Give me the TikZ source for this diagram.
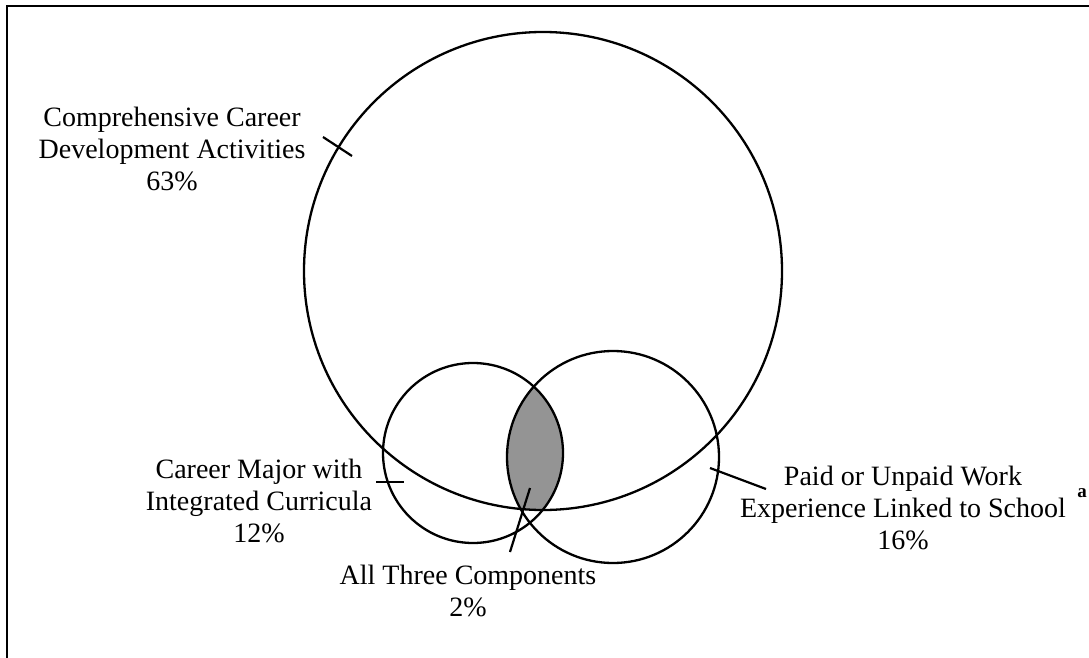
\documentclass[tikz,border=0pt]{standalone}
\usepackage{fontspec}
\setmainfont{Liberation Serif}
\tikzset{
  lbl/.style={align=center, inner sep=0pt, font=\fontsize{28}{32}\selectfont},
  ring/.style={line width=2.3pt},
  tick/.style={line width=2.2pt},
}
\begin{document}
\begin{tikzpicture}[x=1pt,y=-1pt]
  \useasboundingbox (0,0) rectangle (1089,658); %
  \draw[line width=2.6pt] (1100,6) -- (7,6) -- (7,670); %
  \coordinate (cdc) at (543,271); %
  \coordinate (cmj) at (473,453); %
  \coordinate (wrk) at (613,457); %
  % part shared by all three
  \begin{scope}
    \clip (cmj) circle[radius=90]; %
    \clip (wrk) circle[radius=106]; %
    \fill[black!42] (cdc) circle[radius=239]; %
  \end{scope}
  \draw[ring] (cdc) circle[radius=239]; %
  \draw[ring] (cmj) circle[radius=90]; %
  \draw[ring] (wrk) circle[radius=106]; %
  \node[lbl] (cdclbl) at (172,149) {Comprehensive Career\\Development Activities\\63\%}; %
  \node[lbl] (cmjlbl) at (259,501) {Career Major with\\Integrated Curricula\\12\%}; %
  \node[lbl] (wrklbl) at (903,508) {Paid or Unpaid Work\\Experience Linked to School\\16\%}; %
  \node[inner sep=0pt, font=\fontsize{19}{21}\selectfont\bfseries] (fn) at (1082,493) {a}; %
  \node[lbl] (alllbl) at (468,591) {All Three Components\\2\%}; %
  \coordinate (t1a) at (323,137); \coordinate (t1b) at (352,156); %
  \coordinate (t2a) at (376,482); \coordinate (t2b) at (404,482); %
  \coordinate (t3a) at (710,468); \coordinate (t3b) at (766,489); %
  \coordinate (t4a) at (510,552); \coordinate (t4b) at (530,488); %
  \draw[tick] (t1a) -- (t1b); %
  \draw[tick] (t2a) -- (t2b); %
  \draw[tick] (t3a) -- (t3b); %
  \draw[tick] (t4a) -- (t4b); %
\end{tikzpicture}
\end{document}
